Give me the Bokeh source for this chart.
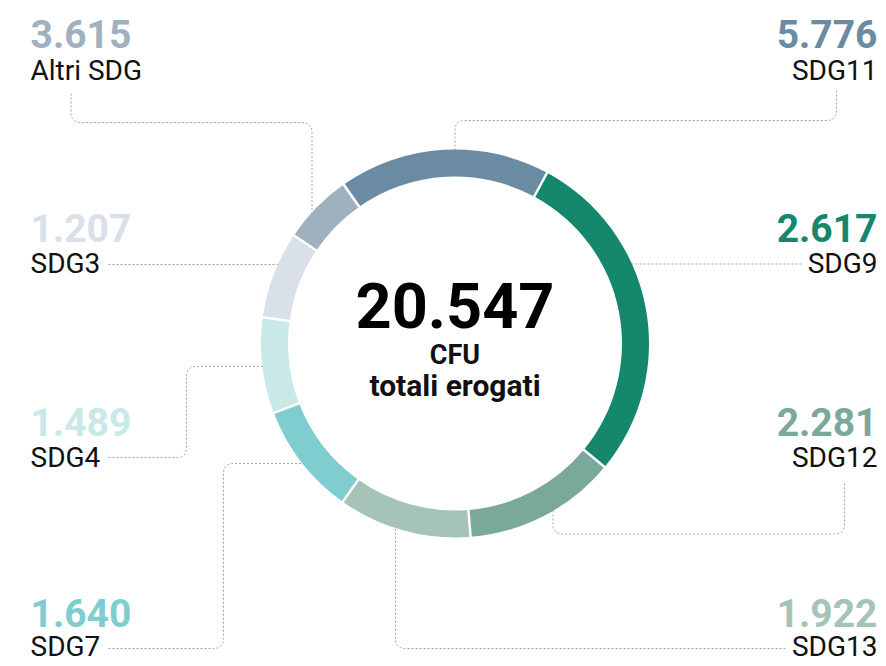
import math
from bokeh.plotting import figure
from bokeh.models import Range1d, ColumnDataSource
from bokeh.embed import file_html
from bokeh.resources import INLINE
from bokeh.core.properties import value

# ---------------- data ----------------
# ring order (clockwise from the start angle)
ring_labels = ["Altri SDG", "SDG11", "SDG9", "SDG12", "SDG13", "SDG7", "SDG4", "SDG3"]
ring_cfu = [3615, 5776, 2617, 2281, 1922, 1640, 1489, 1207]
# colour of each label (value text)
label_colors = {
    "SDG11": "#6b8ba2",
    "SDG9": "#15876c",
    "SDG12": "#7aa99b",
    "SDG13": "#a6c3b8",
    "SDG7": "#7fcdcf",
    "SDG4": "#c9e8e8",
    "SDG3": "#d9e0e7",
    "Altri SDG": "#9fb0bf",
}
left_labels = ["Altri SDG", "SDG3", "SDG4", "SDG7"]
right_labels = ["SDG11", "SDG9", "SDG12", "SDG13"]
center_lines = ["CFU", "totali erogati"]

# ---------------- layout (window pixel coordinates) ----------------
OX, OY = 0, 0
W, H = 886, 666
CX, CY = 454.5, 343.0
R_IN, R_OUT = 167.0, 194.0
START_DEG = -35.0          # clockwise from 12 o'clock
VAL_BASE = [47, 241.5, 435, 626]
LAB_BASE = [80, 273, 467, 656]
LEFT_X, RIGHT_X = 30, 877
FONT = value("Roboto")
BASE_K = 0.35              # compensation for rendered baseline offset


def fmt(n):
    return f"{n:,}".replace(",", ".")


def Y(py):
    return OY + H - py


def TY(py, size):
    return Y(py - BASE_K * size)


cfu_by_label = dict(zip(ring_labels, ring_cfu))
total = sum(ring_cfu)

p = figure(width=W, height=H, x_range=Range1d(OX, OX + W), y_range=Range1d(0, H),
           output_backend="svg", toolbar_location=None, min_border=0)
p.axis.visible = False
p.grid.visible = False
p.outline_line_color = None
p.background_fill_color = "white"
p.border_fill_color = "white"


# ---------------- leader lines ----------------
def ring_point(prev, last):
    rm = (R_IN + R_OUT) / 2
    if last[0] is None:  # vertical line at x=prev[0]
        x = prev[0]
        dy = math.sqrt(max(rm ** 2 - (x - CX) ** 2, 0))
        y = CY - dy if prev[1] < CY else CY + dy
        return (x, y)
    else:  # horizontal line at y=prev[1]
        y = prev[1]
        dx = math.sqrt(max(rm ** 2 - (y - CY) ** 2, 0))
        x = CX - dx if prev[0] < CX else CX + dx
        return (x, y)


def rounded(pts, r=10, n=10):
    out = [pts[0]]
    for i in range(1, len(pts) - 1):
        ax, ay = pts[i - 1]
        px, py = pts[i]
        bx, by = pts[i + 1]
        l1 = math.hypot(px - ax, py - ay)
        l2 = math.hypot(bx - px, by - py)
        s = (px - (px - ax) / l1 * r, py - (py - ay) / l1 * r)
        e = (px + (bx - px) / l2 * r, py + (by - py) / l2 * r)
        for k in range(n + 1):
            t = k / n
            x = (1 - t) ** 2 * s[0] + 2 * (1 - t) * t * px + t ** 2 * e[0]
            y = (1 - t) ** 2 * s[1] + 2 * (1 - t) * t * py + t ** 2 * e[1]
            out.append((x, y))
    out.append(pts[-1])
    return out


leaders = {
    "Altri SDG": [(70.5, 93), (70.5, 122), (311.5, 122), (None, None)],
    "SDG11": [(836, 90), (836, 120), (454.5, 120), (None, None)],
    "SDG3": [(108, 264), (0, None)],
    "SDG4": [(108, 457), (186, 457), (186, 366), (0, None)],
    "SDG7": [(108, 648), (223, 648), (223, 463), (0, None)],
    "SDG9": [(801, 263.5), (0, None)],
    "SDG12": [(844, 483), (844, 533.5), (552.5, 533.5), (None, None)],
    "SDG13": [(785, 648), (395, 648), (None, None)],
}
xs, ys = [], []
for lab, pts in leaders.items():
    end = ring_point(pts[-2], pts[-1])
    path = rounded(pts[:-1] + [end])
    xs.append([q[0] for q in path])
    ys.append([Y(q[1]) for q in path])
p.multi_line(xs=xs, ys=ys, line_color="#a3a3a3", line_width=1, line_dash="2 2")

# ---------------- ring ----------------
starts, ends, cols = [], [], []
acc = START_DEG
bounds = []
for i, lab in enumerate(ring_labels):
    span = cfu_by_label[lab] / total * 360
    t1, t2 = acc, acc + span
    starts.append(math.radians(90 - t2))
    ends.append(math.radians(90 - t1))
    cols.append(label_colors[ring_labels[(i + 1) % len(ring_labels)]])
    bounds.append(t1)
    acc = t2
src = ColumnDataSource(dict(s=starts, e=ends, c=cols))
p.annular_wedge(x=CX, y=Y(CY), inner_radius=R_IN, outer_radius=R_OUT,
                start_angle="s", end_angle="e", fill_color="c", line_color=None,
                source=src)
sx0, sy0, sx1, sy1 = [], [], [], []
for t in bounds:
    a = math.radians(t)
    sx0.append(CX + (R_IN - 2) * math.sin(a))
    sy0.append(Y(CY) + (R_IN - 2) * math.cos(a))
    sx1.append(CX + (R_OUT + 2) * math.sin(a))
    sy1.append(Y(CY) + (R_OUT + 2) * math.cos(a))
p.segment(x0=sx0, y0=sy0, x1=sx1, y1=sy1, line_color="white", line_width=2.5)

# ---------------- labels ----------------
VS, LS = 39, 28
for labs, x, align in ((left_labels, LEFT_X, "left"), (right_labels, RIGHT_X, "right")):
    p.text(x=[x] * 4, y=[TY(b, VS) for b in VAL_BASE],
           text=[fmt(cfu_by_label[l]) for l in labs],
           text_color=[label_colors[l] for l in labs], text_font=FONT,
           text_font_size=f"{VS}px", text_font_style="bold",
           text_align=align, text_baseline="alphabetic")
    p.text(x=[x] * 4, y=[TY(b, LS) for b in LAB_BASE], text=labs,
           text_color="#111111", text_font=FONT, text_font_size=f"{LS}px",
           text_align=align, text_baseline="alphabetic")

# ---------------- centre ----------------
TS = 63
p.text(x=[CX], y=[TY(326.7, TS)], text=[fmt(total)], text_color="#000000", text_font=FONT,
       text_font_size=f"{TS}px", text_font_style="bold", text_align="center",
       text_baseline="alphabetic")
for line, base, size in zip(center_lines, [364, 395], [27, 30]):
    p.text(x=[CX], y=[TY(base, size)], text=[line], text_color="#111111",
           text_font=FONT, text_font_size=f"{size}px", text_font_style="bold",
           text_align="center", text_baseline="alphabetic")

open("out.html", "w").write(file_html(p, INLINE))
